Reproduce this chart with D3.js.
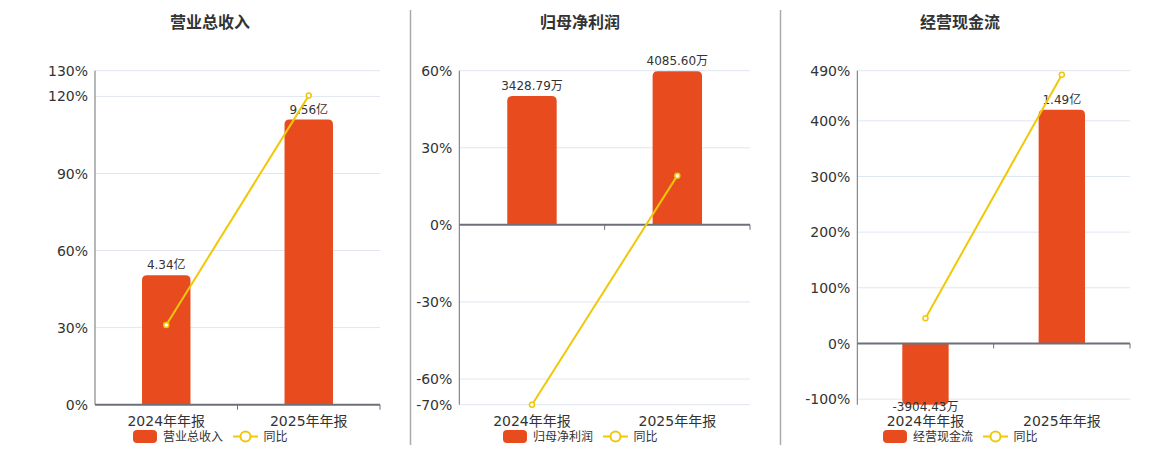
<!DOCTYPE html>
<html>
<head>
<meta charset="utf-8">
<script src="https://cdn.jsdelivr.net/npm/d3@7"></script>
<style>
  body { margin: 0; background: #fff; }
  text { font-family: "DejaVu Sans", "Noto Sans CJK SC", sans-serif; }
</style>
</head>
<body>
<div id="chart"></div>
<script>
// data
var categories = ["2024年年报", "2025年年报"];
var titles = ["营业总收入", "归母净利润", "经营现金流"];

var revenue = [4.34, 9.56];            // 亿
var revenueLabels = ["4.34亿", "9.56亿"];
var revenueYoy = [31.05, 120.3];       // %

var profit = [3428.79, 4085.60];       // 万
var profitLabels = ["3428.79万", "4085.60万"];
var profitYoy = [-70, 19.16];

var cash = [-0.3904, 1.49];            // 亿
var cashLabels = ["-3904.43万", "1.49亿"];
var cashYoy = [45.5, 482.9];

var revenueTicks = [0, 30, 60, 90, 120, 130];
var profitTicks = [-70, -60, -30, 0, 30, 60];
var cashTicks = [-100, 0, 100, 200, 300, 400, 490];

var barColor = "#e84c1e", lineColor = "#f0c808";

var panels = [
  {title: titles[0], bars: revenue, labels: revenueLabels, yoy: revenueYoy, ticks: revenueTicks,
   yDomain: [0, 130], barDomain: [0, 11.2], off: 0, left: 95},
  {title: titles[1], bars: profit, labels: profitLabels, yoy: profitYoy, ticks: profitTicks,
   yDomain: [-70, 60], barDomain: [-4786, 4102], off: 370, left: 89.3},
  {title: titles[2], bars: cash, labels: cashLabels, yoy: cashYoy, ticks: cashTicks,
   yDomain: [-110, 490], barDomain: [-0.3904, 1.739], off: 750, left: 107.3}
];

var svg = d3.select("#chart").append("svg")
  .attr("width", 1160).attr("height", 450);

var plotTop = 70.7, plotBottom = 404.7, plotRight = 380;

// bar with rounded far end
function barPath(x, w, y0, y1, r) {
  var up = y1 < y0;
  var h = Math.abs(y1 - y0);
  r = Math.min(r, h, w / 2);
  if (up) {
    return "M" + x + "," + y0 + "V" + (y1 + r) + "Q" + x + "," + y1 + " " + (x + r) + "," + y1 +
      "H" + (x + w - r) + "Q" + (x + w) + "," + y1 + " " + (x + w) + "," + (y1 + r) + "V" + y0 + "Z";
  }
  return "M" + x + "," + y0 + "V" + (y1 - r) + "Q" + x + "," + y1 + " " + (x + r) + "," + y1 +
    "H" + (x + w - r) + "Q" + (x + w) + "," + y1 + " " + (x + w) + "," + (y1 - r) + "V" + y0 + "Z";
}

panels.forEach(function (p, pi) {
  var g = svg.append("g").attr("transform", "translate(" + p.off + ",0)");

  var x = d3.scaleBand().domain(categories).range([p.left, plotRight]);
  var y = d3.scaleLinear().domain(p.yDomain).range([plotBottom, plotTop]);
  var yb = d3.scaleLinear().domain(p.barDomain).range([plotBottom, plotTop]);

  // title
  g.append("text")
    .attr("x", 210).attr("y", 28)
    .attr("text-anchor", "middle")
    .style("font-family", "'Noto Sans CJK SC', sans-serif")
    .style("font-size", "16px").style("font-weight", "bold")
    .style("fill", "#333")
    .text(p.title);

  // grid + y labels
  g.selectAll(".grid").data(p.ticks).enter().append("line")
    .attr("x1", p.left).attr("x2", plotRight)
    .attr("y1", function (d) { return y(d); }).attr("y2", function (d) { return y(d); })
    .style("stroke", "#e0e6f1").style("stroke-width", 1);

  g.selectAll(".ylab").data(p.ticks).enter().append("text")
    .attr("x", p.left - 7)
    .attr("y", function (d) { return y(d); })
    .attr("dy", "0.36em")
    .attr("text-anchor", "end")
    .style("font-size", "14px").style("fill", "#333")
    .text(function (d) { return d + "%"; });

  // y axis line
  g.append("line")
    .attr("x1", p.left).attr("x2", p.left).attr("y1", plotTop).attr("y2", plotBottom)
    .style("stroke", "#6e7079").style("stroke-width", 1);

  // bars
  var bw = x.bandwidth() * 0.34;
  g.selectAll(".bar").data(p.bars).enter().append("path")
    .attr("d", function (d, i) {
      var cx = x(categories[i]) + x.bandwidth() / 2;
      return barPath(cx - bw / 2, bw, yb(0), yb(d), 5);
    })
    .style("fill", barColor);

  // bar labels
  g.selectAll(".blab").data(p.bars).enter().append("text")
    .attr("x", function (d, i) { return x(categories[i]) + x.bandwidth() / 2; })
    .attr("y", function (d) { return d >= 0 ? yb(d) - 6 : yb(d) + 6.5; })
    .attr("text-anchor", "middle")
    .style("font-size", "12px").style("fill", "#333")
    .text(function (d, i) { return p.labels[i]; });

  // x axis at zero
  var y0 = y(0);
  g.append("line")
    .attr("x1", p.left).attr("x2", plotRight).attr("y1", y0).attr("y2", y0)
    .style("stroke", "#6e7079").style("stroke-width", 2);
  g.selectAll(".xtick").data(categories).enter().append("line")
    .attr("x1", function (d) { return x(d) + x.bandwidth(); })
    .attr("x2", function (d) { return x(d) + x.bandwidth(); })
    .attr("y1", y0).attr("y2", y0 + 5)
    .style("stroke", "#6e7079").style("stroke-width", 1);

  g.selectAll(".xlab").data(categories).enter().append("text")
    .attr("x", function (d) { return x(d) + x.bandwidth() / 2; })
    .attr("y", 426)
    .attr("text-anchor", "middle")
    .style("font-size", "14px").style("fill", "#333")
    .text(function (d) { return d; });

  // yoy line
  var line = d3.line()
    .x(function (d, i) { return x(categories[i]) + x.bandwidth() / 2; })
    .y(function (d) { return y(d); });
  g.append("path").datum(p.yoy)
    .attr("d", line)
    .style("fill", "none").style("stroke", lineColor).style("stroke-width", 2);
  g.selectAll(".pt").data(p.yoy).enter().append("circle")
    .attr("cx", function (d, i) { return x(categories[i]) + x.bandwidth() / 2; })
    .attr("cy", function (d) { return y(d); })
    .attr("r", 2.5)
    .style("fill", "#fff").style("stroke", lineColor).style("stroke-width", 1.5);

  // legend
  g.append("rect").attr("x", 133).attr("y", 430).attr("width", 24).attr("height", 13)
    .attr("rx", 4).style("fill", barColor);
  g.append("text").attr("x", 163).attr("y", 436.5).attr("dy", "0.36em")
    .style("font-size", "12px").style("fill", "#333").text(p.title);
  g.append("line").attr("x1", 233).attr("x2", 258).attr("y1", 436.5).attr("y2", 436.5)
    .style("stroke", lineColor).style("stroke-width", 2);
  g.append("circle").attr("cx", 245.5).attr("cy", 436.5).attr("r", 5)
    .style("fill", "#fff").style("stroke", lineColor).style("stroke-width", 2);
  g.append("text").attr("x", 263.5).attr("y", 436.5).attr("dy", "0.36em")
    .style("font-size", "12px").style("fill", "#333").text("同比");

  // separator
  if (pi < 2) {
    g.append("line").attr("x1", 410.5).attr("x2", 410.5).attr("y1", 10).attr("y2", 445)
      .style("stroke", "#aaa").style("stroke-width", 1.5);
  }
});
</script>
</body>
</html>
